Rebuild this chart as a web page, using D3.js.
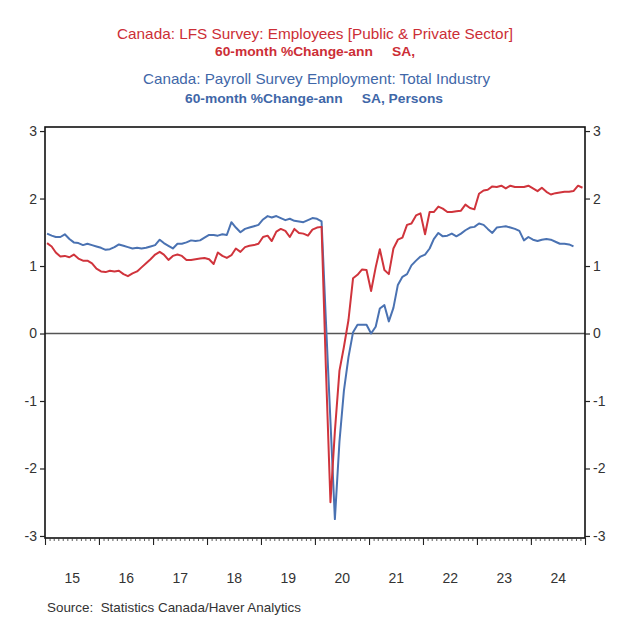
<!DOCTYPE html>
<html>
<head>
<meta charset="utf-8">
<script src="https://cdn.jsdelivr.net/npm/d3@7"></script>
<style>
  html, body { margin: 0; padding: 0; background: #fff; }
  svg { display: block; font-family: "Liberation Sans", Arial, sans-serif; }
  text { white-space: pre; }
</style>
</head>
<body>
<svg id="chart" width="640" height="622"></svg>
<script>
// ---- Data (monthly, Jan 2015 onward) ----
const startMonth = "2015-01";
const yearLabels = ["15","16","17","18","19","20","21","22","23","24"];
const yTicks = [-3, -2, -1, 0, 1, 2, 3];

const lfsValues = [
  1.34,1.29,1.20,1.14,1.15,1.13,1.17,1.11,1.08,1.08,1.04,0.96,
  0.92,0.91,0.93,0.92,0.93,0.88,0.85,0.89,0.92,0.98,1.04,1.10,
  1.17,1.21,1.17,1.09,1.15,1.17,1.15,1.09,1.09,1.10,1.11,1.12,
  1.10,1.03,1.20,1.15,1.12,1.16,1.26,1.21,1.28,1.30,1.31,1.33,
  1.43,1.45,1.37,1.51,1.55,1.52,1.43,1.55,1.49,1.48,1.45,1.54,
  1.57,1.58,-0.50,-2.50,-1.45,-0.55,-0.20,0.20,0.82,0.87,0.95,0.94,
  0.63,0.98,1.25,0.94,0.88,1.26,1.39,1.42,1.61,1.63,1.75,1.78,
  1.47,1.80,1.80,1.88,1.85,1.80,1.80,1.81,1.82,1.91,1.86,1.84,
  2.07,2.12,2.13,2.18,2.17,2.19,2.15,2.19,2.17,2.17,2.17,2.19,
  2.15,2.11,2.16,2.10,2.06,2.08,2.09,2.10,2.10,2.11,2.19,2.16
];

const payrollValues = [
  1.48,1.45,1.43,1.43,1.47,1.40,1.35,1.34,1.31,1.33,1.31,1.29,
  1.27,1.24,1.25,1.28,1.32,1.30,1.28,1.26,1.27,1.26,1.27,1.29,
  1.31,1.39,1.34,1.30,1.26,1.33,1.33,1.35,1.38,1.37,1.38,1.42,
  1.46,1.46,1.45,1.47,1.46,1.65,1.57,1.50,1.55,1.57,1.59,1.61,
  1.69,1.74,1.72,1.74,1.71,1.68,1.70,1.67,1.66,1.65,1.68,1.71,
  1.70,1.66,0.20,-1.30,-2.75,-1.60,-0.85,-0.35,0.02,0.13,0.13,0.13,
  0.00,0.10,0.37,0.42,0.18,0.38,0.72,0.84,0.88,1.01,1.08,1.14,
  1.17,1.26,1.40,1.49,1.44,1.45,1.48,1.44,1.48,1.53,1.57,1.58,
  1.63,1.61,1.55,1.49,1.57,1.58,1.59,1.57,1.55,1.52,1.38,1.43,
  1.39,1.37,1.39,1.40,1.39,1.36,1.33,1.33,1.32,1.29
];

const titles = [
  {text: "Canada: LFS Survey: Employees [Public & Private Sector]", cls: "red", bold: false},
  {text: "60-month %Change-ann     SA,", cls: "red", bold: true},
  {text: "Canada: Payroll Survey Employment: Total Industry", cls: "blue", bold: false},
  {text: "60-month %Change-ann     SA, Persons", cls: "blue", bold: true}
];
const sourceText = "Source:  Statistics Canada/Haver Analytics";

// ---- Styles / layout ----
const RED = "#d0343c", BLUE = "#4a72b2";
const RED_T = "#cc2e36", BLUE_T = "#3f67a8";
const L = 45, R = 585, T = 127, B = 538;

const svg = d3.select("#chart");
const parse = d3.timeParse("%Y-%m");
const t0 = parse(startMonth);
const monthDate = i => { const d = d3.timeMonth.offset(t0, i); return d3.timeDay.offset(d, 14); };

const x = d3.scaleTime()
  .domain([t0, d3.timeYear.offset(t0, yearLabels.length)])
  .range([L, R]);
const y = d3.scaleLinear().domain([-3.03, 3.06]).range([B, T]);

// titles
const titleLayout = [
  {x: 117, y: 38.5, size: 15, len: 396},
  {x: 215, y: 55.5, size: 12.5, len: 200},
  {x: 143, y: 84.3, size: 15, len: 347},
  {x: 185, y: 103.3, size: 12.5, len: 258}
];
titles.forEach((t, i) => {
  const lay = titleLayout[i];
  svg.append("text")
    .attr("x", lay.x).attr("y", lay.y)
    .attr("font-size", lay.size)
    .attr("font-weight", t.bold ? "bold" : "normal")
    .attr("fill", t.cls === "red" ? RED_T : BLUE_T)
    .attr("textLength", lay.len)
    .attr("lengthAdjust", "spacingAndGlyphs")
    .text(t.text);
});

// zero line
svg.append("line")
  .attr("x1", L).attr("x2", R)
  .attr("y1", y(0)).attr("y2", y(0))
  .attr("stroke", "#555").attr("stroke-width", 1.6);

// series lines
const line = d3.line()
  .x((d, i) => x(monthDate(i)))
  .y(d => y(d));

svg.append("path").datum(payrollValues)
  .attr("d", line).attr("fill", "none")
  .attr("stroke", BLUE).attr("stroke-width", 2).attr("stroke-linejoin", "round");
svg.append("path").datum(lfsValues)
  .attr("d", line).attr("fill", "none")
  .attr("stroke", RED).attr("stroke-width", 2).attr("stroke-linejoin", "round");

// frame
svg.append("rect")
  .attr("x", L).attr("y", T).attr("width", R - L).attr("height", B - T)
  .attr("fill", "none").attr("stroke", "#111").attr("stroke-width", 1.6);

// y axes (plain hyphen minus as in the reference)
const fmt = d => String(d);
const leftAxis = d3.axisLeft(y).tickValues(yTicks).tickSize(5).tickPadding(3).tickFormat(fmt);
const rightAxis = d3.axisRight(y).tickValues(yTicks).tickSize(5).tickPadding(3).tickFormat(fmt);
const gl = svg.append("g").attr("transform", `translate(${L},0)`).call(leftAxis);
const gr = svg.append("g").attr("transform", `translate(${R},0)`).call(rightAxis);
[gl, gr].forEach(g => {
  g.select(".domain").remove();
  g.selectAll(".tick line").attr("stroke", "#222").attr("stroke-width", 1.2);
  g.selectAll(".tick text").attr("font-size", 14).attr("fill", "#333")
    .attr("font-family", "'Liberation Sans', Arial, sans-serif");
});

// x axis: minor monthly ticks
const months = d3.timeMonth.range(x.domain()[0], x.domain()[1]);
const minorAxis = d3.axisBottom(x).tickValues(months).tickSize(3).tickFormat("");
const gm = svg.append("g").attr("transform", `translate(0,${B})`).call(minorAxis);
gm.select(".domain").remove();
gm.selectAll(".tick line").attr("stroke", "#333").attr("stroke-width", 0.8);

const years = d3.timeYear.range(x.domain()[0], d3.timeDay.offset(x.domain()[1], 1));
const majorAxis = d3.axisBottom(x).tickValues(years).tickSize(7).tickFormat("");
const gM = svg.append("g").attr("transform", `translate(0,${B})`).call(majorAxis);
gM.select(".domain").remove();
gM.selectAll(".tick line").attr("stroke", "#222").attr("stroke-width", 1.1);

// year labels at mid-year
const midYears = years.slice(0, yearLabels.length).map(d => d3.timeMonth.offset(d, 6));
const labelAxis = d3.axisBottom(x).tickValues(midYears).tickSize(0).tickPadding(0)
  .tickFormat((d, i) => yearLabels[i]);
const gL = svg.append("g").attr("transform", `translate(0,${B + 31})`).call(labelAxis);
gL.select(".domain").remove();
gL.selectAll(".tick text").attr("font-size", 14).attr("fill", "#333")
  .attr("font-family", "'Liberation Sans', Arial, sans-serif").attr("dy", "0");
gL.selectAll(".tick text").attr("y", 14);

// source
svg.append("text")
  .attr("x", 47).attr("y", 612)
  .attr("font-size", 13).attr("fill", "#333")
  .attr("textLength", 254).attr("lengthAdjust", "spacingAndGlyphs")
  .text(sourceText);
</script>
</body>
</html>
